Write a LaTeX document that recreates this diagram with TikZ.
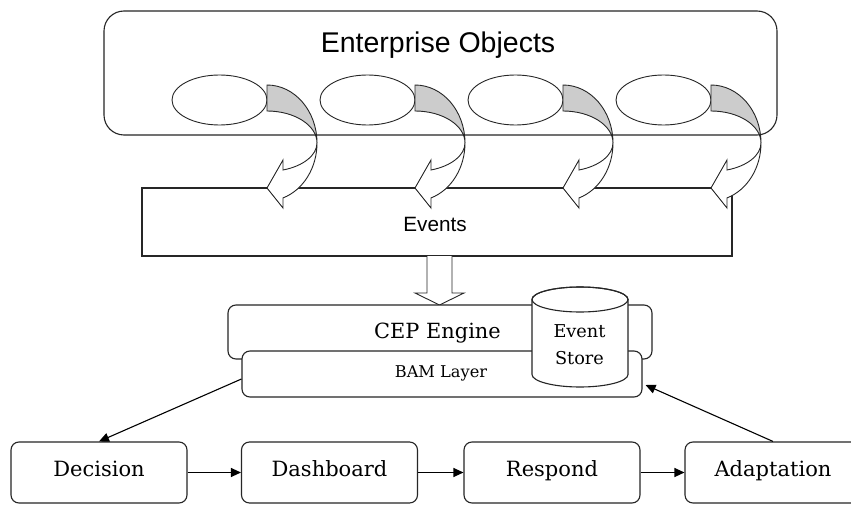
\documentclass[tikz,border=0pt]{standalone}
\usepackage{fontspec}
\setmainfont{DejaVu Serif}
\newfontfamily\arialf{Liberation Sans}
\usetikzlibrary{arrows.meta,shapes.geometric,calc}
\begin{document}
\begin{tikzpicture}[x=1pt,y=-1pt,
  box/.style={draw=black!85,line width=1.1pt,fill=white,inner sep=0pt},
  rbox/.style={box,rounded corners=8pt},
  proc/.style={rbox,minimum width=176pt,minimum height=61pt,font=\fontsize{21}{24}\selectfont,text height=15pt,text depth=8pt},
  obj/.style={draw=black!85,line width=0.9pt,ellipse,minimum width=95pt,minimum height=50pt,inner sep=0pt},
  conn/.style={draw=black,line width=1.1pt,-{Triangle[length=10pt,width=9pt]}},
  shapeline/.style={draw=black!85,line width=0.9pt},
  txt/.style={anchor=base,inner sep=0pt}
]
\useasboundingbox (0,0) rectangle (851,505);
\fill[white] (0,0) rectangle (851,505);

% Enterprise objects container
\node[box,rounded corners=20pt,minimum width=673pt,minimum height=124pt] (eo) at (440.5,73) {};
\node[txt,font=\arialf\fontsize{28.5}{30}\selectfont] (eotitle) at (438,53) {Enterprise Objects};
\foreach \i in {0,1,2,3}{
  \node[obj] (o\i) at (219.5+148*\i,100) {};
}

% Events box
\node[box,minimum width=590pt,minimum height=68pt] (events) at (437,222) {};
\node[txt,font=\arialf\fontsize{20.7}{24}\selectfont] (evtext) at (435,232) {Events};

% curved arrows
\foreach \i in {0,1,2,3}{
  \begin{scope}[shift={(267+148*\i,143)}]
    \filldraw[shapeline,fill=black!20] (0,-58) arc[start angle=-90,end angle=0,x radius=50,y radius=58]
      arc[start angle=0,end angle=-90,x radius=50,y radius=32] -- cycle;
    \filldraw[shapeline,fill=white] (50,0) arc[start angle=0,end angle=71.3,x radius=50,y radius=58]
      -- (16,65) -- (0,45) -- (16,17) -- (16,27)
      arc[start angle=71.3,end angle=0,x radius=50,y radius=28.5] -- cycle;
  \end{scope}
}

% block arrow down
\filldraw[shapeline,fill=white] (427,256) -- (427,293) -- (415,293) -- (439.5,305) -- (464,293) -- (452,293) -- (452,256);

% CEP engine and BAM layer
\node[rbox,minimum width=424pt,minimum height=54pt] (cep) at (440,332) {};
\node[rbox,minimum width=400pt,minimum height=46pt] (bam) at (442,374) {};
\node[txt,font=\fontsize{20.9}{24}\selectfont] (ceptext) at (437.5,338) {CEP Engine};
\node[txt,font=\fontsize{16.2}{20}\selectfont] (bamtext) at (441,377) {BAM Layer};

% Event store cylinder
\filldraw[box] (532,299.5) -- (532,374.5) arc[start angle=180,end angle=0,x radius=48,y radius=12.5]
  -- (628,299.5) arc[start angle=0,end angle=-180,x radius=48,y radius=12.5] -- cycle;
\draw[shapeline,line width=1.1pt] (580,299.5) ellipse[x radius=48,y radius=12.5];
\node[txt,font=\fontsize{17.7}{20}\selectfont] (store1) at (579.5,337) {Event};
\node[txt,font=\fontsize{17.7}{20}\selectfont] (store2) at (579.5,364) {Store};

% bottom process boxes
\node[proc] (decision) at (99,472.5) {Decision};
\node[proc] (dashboard) at (329.5,472.5) {Dashboard};
\node[proc] (respond) at (552,472.5) {Respond};
\node[proc] (adaptation) at (773,472.5) {Adaptation};

\draw[conn] (decision) -- (dashboard);
\draw[conn] (dashboard) -- (respond);
\draw[conn] (respond) -- (adaptation);
\draw[conn] ($(bam.west)+(0,5)$) -- (decision.north);
\draw[conn] (adaptation.north) -- ($(bam.east)+(3,11)$);
\end{tikzpicture}
\end{document}
